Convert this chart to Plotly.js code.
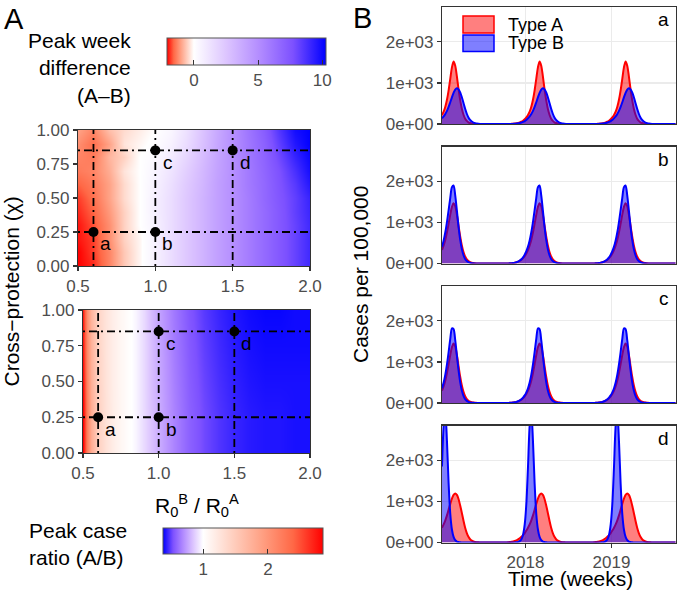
<!DOCTYPE html>
<html>
<head>
<meta charset="utf-8">
<script src="https://cdn.plot.ly/plotly-3.0.1.min.js"></script>
<style>
html,body{margin:0;padding:0;background:#fff;}
#chart{width:677px;height:596px;}
</style>
</head>
<body>
<div id="chart"></div>
<script>
// ================= Panel A data =================
// Peak week difference (A-B) grid
const ratioR = [0.5,0.6,0.7,0.8,0.9,1.0,1.1,1.2,1.3,1.4,1.5,1.6,1.7,1.8,1.9,2.0];
const chiGrid = [0,0.1,0.2,0.3,0.4,0.5,0.6,0.7,0.8,0.9,1.0];
const peakWeekDiff = [
  [-2.1,-1.9,-1.3,-0.6,-0.1,0.6,1.5,2.4,3.3,4.2,5.0,5.8,6.6,7.4,8.2,9.0],
  [-2.1,-1.8,-1.3,-0.6,-0.1,0.6,1.5,2.4,3.3,4.2,5.0,5.8,6.6,7.4,8.2,9.0],
  [-2.0,-1.8,-1.2,-0.5,-0.1,0.6,1.5,2.4,3.3,4.2,5.0,5.8,6.6,7.4,8.2,9.0],
  [-2.0,-1.7,-1.2,-0.5,0.0,0.6,1.5,2.4,3.3,4.2,5.0,5.8,6.6,7.4,8.2,9.0],
  [-1.9,-1.6,-1.1,-0.5,0.0,0.7,1.5,2.4,3.3,4.2,5.0,5.8,6.6,7.4,8.3,9.1],
  [-1.8,-1.5,-1.0,-0.4,0.0,0.7,1.5,2.4,3.3,4.2,5.0,5.8,6.7,7.5,8.3,9.2],
  [-1.6,-1.4,-1.0,-0.4,0.0,0.6,1.4,2.3,3.2,4.2,5.0,5.9,6.7,7.6,8.5,9.6],
  [-1.4,-1.3,-0.9,-0.3,0.0,0.5,1.2,2.1,3.1,4.1,5.0,5.9,6.8,7.7,8.8,9.9],
  [-1.3,-1.4,-0.8,-0.5,0.0,0.3,0.9,1.8,2.9,4.0,5.0,6.0,6.9,8.0,9.2,10.1],
  [-1.2,-1.5,-1.0,-0.3,-0.1,0.1,0.6,1.5,2.7,3.9,5.0,6.0,7.0,8.3,9.6,10.3],
  [-1.0,-1.3,-0.7,-0.4,-0.2,0.0,0.4,1.3,2.6,3.8,5.0,6.1,7.2,8.6,9.9,10.3]
];
// Peak case ratio (A/B) grid
const ratioRCase = [0.5,0.525,0.55,0.6,0.65,0.7,0.75,0.8,0.85,0.9,0.95,1.0,1.1,1.2,1.3,1.4,1.5,1.6,1.7,1.8,1.9,2.0];
const chiCase = [0,0.25,0.5,0.75,1.0];
const peakCaseRatio = [
  [2.85,2.2,1.8,1.45,1.28,1.17,1.08,1.02,0.97,0.9,0.84,0.78,0.67,0.58,0.52,0.48,0.45,0.43,0.42,0.42,0.41,0.41],
  [2.85,2.2,1.8,1.45,1.28,1.17,1.08,1.02,0.97,0.9,0.84,0.78,0.67,0.58,0.52,0.48,0.45,0.43,0.42,0.42,0.41,0.41],
  [2.8,2.15,1.77,1.43,1.27,1.16,1.08,1.02,0.97,0.9,0.83,0.77,0.66,0.57,0.51,0.47,0.44,0.42,0.41,0.41,0.41,0.41],
  [2.75,2.1,1.75,1.42,1.26,1.16,1.08,1.02,0.97,0.9,0.83,0.76,0.65,0.56,0.5,0.46,0.43,0.41,0.4,0.4,0.4,0.4],
  [2.7,2.05,1.72,1.41,1.26,1.16,1.08,1.02,0.97,0.9,0.82,0.75,0.64,0.55,0.49,0.45,0.42,0.40,0.39,0.39,0.40,0.40]
];
// Scenarios a-d
const scenarioLabels = ['a','b','c','d'];
const scenarioR = [0.6,1.0,1.0,1.5];
const scenarioChi = [0.25,0.25,0.85,0.85];
const topTicks = [0,5,10];
const bottomTicks = [1,2];

// ================= Panel B data (weekly cases per 100,000) =================
const weekStartYear = 2017.03;
const weeksPerYear = 52;
const casesA_a = [
220,300,420,590,820,1100,1380,1520,1420,1160,850,580,370,225,130,75,42,24,13,7,4,2,1,0,0,0,0,0,0,0,0,0,0,0,0,0,0,0,0,0,1,2,4,6,10,16,25,37,55,80,115,160,
220,300,420,590,820,1100,1380,1520,1420,1160,850,580,370,225,130,75,42,24,13,7,4,2,1,0,0,0,0,0,0,0,0,0,0,0,0,0,0,0,0,0,1,2,4,6,10,16,25,37,55,80,115,160,
220,300,420,590,820,1100,1380,1520,1420,1160,850,580,370,225,130,75,42,24,13,7,4,2,1,0,0,0,0,0,0,0,0,0,0,0,0,0,0,0,0,0,1,2,4,6,10,16,25,37,55,80,115,160];
const casesB_a = [
140,185,245,320,415,530,650,760,840,870,845,770,650,510,370,250,160,100,60,35,20,11,6,3,2,1,0,0,0,0,0,0,0,0,0,0,0,0,0,0,0,1,2,4,6,10,16,24,35,50,72,100,
140,185,245,320,415,530,650,760,840,870,845,770,650,510,370,250,160,100,60,35,20,11,6,3,2,1,0,0,0,0,0,0,0,0,0,0,0,0,0,0,0,1,2,4,6,10,16,24,35,50,72,100,
140,185,245,320,415,530,650,760,840,870,845,770,650,510,370,250,160,100,60,35,20,11,6,3,2,1,0,0,0,0,0,0,0,0,0,0,0,0,0,0,0,1,2,4,6,10,16,24,35,50,72,100];
const casesA_b = [
330,440,580,760,970,1190,1380,1470,1400,1190,920,660,440,280,170,100,58,33,19,10,6,3,2,1,0,0,0,0,0,0,0,0,0,0,0,0,0,0,1,2,3,5,8,13,20,30,44,64,92,130,180,245,
330,440,580,760,970,1190,1380,1470,1400,1190,920,660,440,280,170,100,58,33,19,10,6,3,2,1,0,0,0,0,0,0,0,0,0,0,0,0,0,0,1,2,3,5,8,13,20,30,44,64,92,130,180,245,
330,440,580,760,970,1190,1380,1470,1400,1190,920,660,440,280,170,100,58,33,19,10,6,3,2,1,0,0,0,0,0,0,0,0,0,0,0,0,0,0,1,2,3,5,8,13,20,30,44,64,92,130,180,245];
const casesB_b = [
410,560,760,1010,1300,1600,1860,1900,1660,1290,900,580,350,200,110,60,32,17,9,5,2,1,0,0,0,0,0,0,0,0,0,0,0,0,0,0,0,0,1,2,3,5,8,13,21,32,48,72,105,150,215,300,
410,560,760,1010,1300,1600,1860,1900,1660,1290,900,580,350,200,110,60,32,17,9,5,2,1,0,0,0,0,0,0,0,0,0,0,0,0,0,0,0,0,1,2,3,5,8,13,21,32,48,72,105,150,215,300,
410,560,760,1010,1300,1600,1860,1900,1660,1290,900,580,350,200,110,60,32,17,9,5,2,1,0,0,0,0,0,0,0,0,0,0,0,0,0,0,0,0,1,2,3,5,8,13,21,32,48,72,105,150,215,300];
const casesA_c = [
300,410,550,730,950,1170,1360,1450,1380,1170,900,640,425,270,165,97,56,32,18,10,5,3,1,0,0,0,0,0,0,0,0,0,0,0,0,0,0,0,0,1,2,4,7,12,18,27,39,57,82,115,160,220,
300,410,550,730,950,1170,1360,1450,1380,1170,900,640,425,270,165,97,56,32,18,10,5,3,1,0,0,0,0,0,0,0,0,0,0,0,0,0,0,0,0,1,2,4,7,12,18,27,39,57,82,115,160,220,
300,410,550,730,950,1170,1360,1450,1380,1170,900,640,425,270,165,97,56,32,18,10,5,3,1,0,0,0,0,0,0,0,0,0,0,0,0,0,0,0,0,1,2,4,7,12,18,27,39,57,82,115,160,220];
const casesB_c = [
360,500,690,940,1240,1560,1820,1800,1530,1160,800,510,305,175,95,52,28,15,8,4,2,1,0,0,0,0,0,0,0,0,0,0,0,0,0,0,0,0,0,1,2,4,7,12,18,28,42,62,90,130,185,260,
360,500,690,940,1240,1560,1820,1800,1530,1160,800,510,305,175,95,52,28,15,8,4,2,1,0,0,0,0,0,0,0,0,0,0,0,0,0,0,0,0,0,1,2,4,7,12,18,28,42,62,90,130,185,260,
360,500,690,940,1240,1560,1820,1800,1530,1160,800,510,305,175,95,52,28,15,8,4,2,1,0,0,0,0,0,0,0,0,0,0,0,0,0,0,0,0,0,1,2,4,7,12,18,28,42,62,90,130,185,260];
const casesA_d = [
360,440,540,660,800,940,1070,1160,1195,1160,1060,900,720,530,360,230,140,80,45,25,13,7,4,2,1,0,0,0,0,0,0,0,0,0,0,0,0,1,2,3,6,10,16,25,37,54,76,104,138,180,230,290,
360,440,540,660,800,940,1070,1160,1195,1160,1060,900,720,530,360,230,140,80,45,25,13,7,4,2,1,0,0,0,0,0,0,0,0,0,0,0,0,1,2,3,6,10,16,25,37,54,76,104,138,180,230,290,
360,440,540,660,800,940,1070,1160,1195,1160,1060,900,720,530,360,230,140,80,45,25,13,7,4,2,1,0,0,0,0,0,0,0,0,0,0,0,0,1,2,3,6,10,16,25,37,54,76,104,138,180,230,290];
const casesB_d = [
1850,2840,3180,2470,1440,700,316,136,58,24,10,4,2,1,0,0,0,0,0,0,0,0,0,0,0,0,0,0,0,0,0,0,0,0,0,0,0,0,0,0,0,0,0,1,3,6,14,34,82,191,440,949,
1850,2840,3180,2470,1440,700,316,136,58,24,10,4,2,1,0,0,0,0,0,0,0,0,0,0,0,0,0,0,0,0,0,0,0,0,0,0,0,0,0,0,0,0,0,1,3,6,14,34,82,191,440,949,
1850,2840,3180,2470,1440,700,316,136,58,24,10,4,2,1,0,0,0,0,0,0,0,0,0,0,0,0,0,0,0,0,0,0,0,0,0,0,0,0,0,0,0,0,0,1,3,6,14,34,82,191,440,949];
const panelLetters = ['a','b','c','d'];
const panelTypeA = [casesA_a, casesA_b, casesA_c, casesA_d];
const panelTypeB = [casesB_a, casesB_b, casesB_c, casesB_d];
const yearTicks = [2018, 2019];
const caseTicks = [0, 1000, 2000];
const caseTickText = ['0e+00','1e+03','2e+03'];

// ================= Drawing =================
const W = 677, H = 596;
const px = v => v / W;
const py = v => 1 - v / H;
const FONT = "'Liberation Sans', Arial, Helvetica, sans-serif";
const GREY = '#4d4d4d';

const topScale = [
  [0,'rgb(255,0,0)'],[0.042,'rgb(255,104,70)'],[0.085,'rgb(255,158,129)'],[0.127,'rgb(255,207,191)'],
  [0.169,'rgb(255,255,255)'],[0.377,'rgb(220,196,255)'],[0.585,'rgb(178,139,255)'],[0.792,'rgb(125,81,255)'],[1,'rgb(0,0,255)']
];
const bottomScale = [
  [0,'rgb(0,0,255)'],[0.063,'rgb(125,81,255)'],[0.126,'rgb(178,139,255)'],[0.188,'rgb(220,196,255)'],
  [0.251,'rgb(255,255,255)'],[0.438,'rgb(255,207,191)'],[0.626,'rgb(255,158,129)'],[0.813,'rgb(255,104,70)'],[1,'rgb(255,0,0)']
];

const cbCommon = {
  orientation:'h', xanchor:'left', yanchor:'top', lenmode:'pixels', thicknessmode:'pixels',
  xpad:0, ypad:0, outlinewidth:1, outlinecolor:'#555', ticks:'inside', ticklen:5,
  tickcolor:'#333', tickwidth:1, tickfont:{family:FONT, size:17, color:GREY}
};

const traces = [];
traces.push({
  type:'heatmap', x:ratioR, y:chiGrid, z:peakWeekDiff, xaxis:'x', yaxis:'y',
  zsmooth:'best', zmin:-2.1, zmax:10.3, colorscale:topScale, hoverinfo:'skip',
  colorbar:Object.assign({}, cbCommon, {x:px(167), y:py(38), len:159, thickness:27, tickvals:topTicks})
});
traces.push({
  type:'heatmap', x:ratioRCase, y:chiCase, z:peakCaseRatio, xaxis:'x2', yaxis:'y2',
  zsmooth:'best', zmin:0.38, zmax:2.85, colorscale:bottomScale, hoverinfo:'skip',
  colorbar:Object.assign({}, cbCommon, {x:px(163), y:py(528), len:160, thickness:26, tickvals:bottomTicks})
});
['x','x2'].forEach((xa, i) => {
  traces.push({
    type:'scatter', mode:'markers', x:scenarioR, y:scenarioChi, xaxis:xa, yaxis:(i===0?'y':'y2'),
    marker:{color:'black', size:10}, showlegend:false, hoverinfo:'skip'
  });
});

const timeYears = casesA_a.map((_, i) => weekStartYear + i / weeksPerYear);
for (let p = 0; p < 4; p++) {
  const xa = 'x' + (p + 3), ya = 'y' + (p + 3);
  traces.push({
    type:'scatter', mode:'lines', x:timeYears, y:panelTypeA[p], xaxis:xa, yaxis:ya,
    fill:'tozeroy', fillcolor:'rgba(255,0,0,0.5)', line:{color:'#ff0000', width:2, shape:'spline', smoothing:0.8},
    name:'Type A', showlegend:false, hoverinfo:'skip'
  });
  traces.push({
    type:'scatter', mode:'lines', x:timeYears, y:panelTypeB[p], xaxis:xa, yaxis:ya,
    fill:'tozeroy', fillcolor:'rgba(0,0,255,0.5)', line:{color:'#0000ff', width:2, shape:'spline', smoothing:0.8},
    name:'Type B', showlegend:false, hoverinfo:'skip'
  });
}

const axisCommon = {
  showline:true, mirror:true, linecolor:'#333333', linewidth:1.1, zeroline:false,
  ticks:'outside', ticklen:4, tickcolor:'#333333', tickwidth:1.1,
  tickfont:{family:FONT, size:17, color:GREY}, fixedrange:true
};
const hx = {range:[0.5,2.0], tickvals:[0.5,1,1.5,2], ticktext:['0.5','1.0','1.5','2.0'], showgrid:false};
const hy = {range:[0,1], tickvals:[0,0.25,0.5,0.75,1], ticktext:['0.00','0.25','0.50','0.75','1.00'], showgrid:false};

const layout = {
  width:W, height:H, margin:{l:0,r:0,t:0,b:0}, paper_bgcolor:'white', plot_bgcolor:'white',
  font:{family:FONT, color:'black'}, showlegend:false,
  xaxis:Object.assign({}, axisCommon, hx, {domain:[px(78), px(310)], anchor:'y'}),
  yaxis:Object.assign({}, axisCommon, hy, {domain:[py(266), py(130)], anchor:'x'}),
  xaxis2:Object.assign({}, axisCommon, hx, {domain:[px(83), px(310)], anchor:'y2'}),
  yaxis2:Object.assign({}, axisCommon, hy, {domain:[py(453), py(310)], anchor:'x2'}),
  shapes:[], annotations:[]
};
const panelTops = [7, 146.5, 286, 425.5];
const panelH = 117;
for (let p = 0; p < 4; p++) {
  const n = p + 3;
  layout['xaxis' + n] = Object.assign({}, axisCommon, {
    domain:[px(442), px(675.5)], anchor:'y' + n, range:[2017.03, 2019.745],
    tickvals:yearTicks, ticktext:yearTicks.map(String), showgrid:true, gridcolor:'#ebebeb', gridwidth:1.1,
    showticklabels:(p === 3), ticks:(p === 3 ? 'outside' : '')
  });
  layout['yaxis' + n] = Object.assign({}, axisCommon, {
    domain:[py(panelTops[p] + panelH), py(panelTops[p])], anchor:'x' + n, range:[0, 2850],
    tickvals:caseTicks, ticktext:caseTickText, showgrid:true, gridcolor:'#ebebeb', gridwidth:1.1
  });
  layout.annotations.push({
    xref:'x' + n + ' domain', yref:'y' + n + ' domain', x:1, y:1, xanchor:'center', yanchor:'middle',
    xshift:-12, yshift:-13, text:panelLetters[p], showarrow:false, font:{family:FONT, size:19, color:'black'}
  });
}

// reference lines through scenarios
const uniq = arr => arr.filter((v, i) => arr.indexOf(v) === i);
const dashStyle = {color:'black', width:1.8, dash:'2px,4px,8px,4px'};
[['x','y'],['x2','y2']].forEach(([xa, ya]) => {
  uniq(scenarioR).forEach(r => layout.shapes.push({type:'line', xref:xa, yref:ya + ' domain', x0:r, x1:r, y0:0, y1:1, line:dashStyle, layer:'above'}));
  uniq(scenarioChi).forEach(c => layout.shapes.push({type:'line', xref:xa + ' domain', yref:ya, x0:0, x1:1, y0:c, y1:c, line:dashStyle, layer:'above'}));
  scenarioLabels.forEach((lab, i) => layout.annotations.push({
    xref:xa, yref:ya, x:scenarioR[i], y:scenarioChi[i], text:lab, showarrow:false,
    xanchor:'center', yanchor:'middle', xshift:12.5, yshift:-12, font:{family:FONT, size:19, color:'black'}
  }));
});

// manual legend in panel a
layout.shapes.push({type:'rect', xref:'paper', yref:'paper', x0:px(463), x1:px(494), y0:py(33), y1:py(16),
  fillcolor:'rgba(255,0,0,0.5)', line:{color:'#ff0000', width:1.5}});
layout.shapes.push({type:'rect', xref:'paper', yref:'paper', x0:px(463), x1:px(494), y0:py(51.5), y1:py(35),
  fillcolor:'rgba(0,0,255,0.5)', line:{color:'#0000ff', width:1.5}});

const ann = (text, x, y, opts) => layout.annotations.push(Object.assign({
  xref:'paper', yref:'paper', x:px(x), y:py(y), text:text, showarrow:false,
  xanchor:'center', yanchor:'middle', font:{family:FONT, size:21, color:'black'}
}, opts || {}));
ann('Type A', 506, 25, {xanchor:'left', height:18, valign:'middle', font:{family:FONT, size:18, color:'black'}});
ann('Type B', 506, 43.5, {xanchor:'left', height:18, valign:'middle', font:{family:FONT, size:18, color:'black'}});
ann('A', 2, 18.5, {xanchor:'left', font:{family:FONT, size:29, color:'black'}});
ann('B', 351, 18, {xanchor:'left', font:{family:FONT, size:29, color:'black'}});
ann('Peak week<br>difference<br>(A–B)', 133, 67.5, {xanchor:'right', align:'right'});
ann('Peak case<br>ratio (A/B)', 27, 544, {xanchor:'left', align:'left'});
ann('Cross−protection (χ)', 11, 291.5, {textangle:-90});
ann('R<sub>0</sub><sup>B</sup> / R<sub>0</sub><sup>A</sup>', 196.5, 505);
ann('Cases per 100,000', 360.5, 274.5, {textangle:-90});
ann('Time (weeks)', 570, 578);

Plotly.newPlot('chart', traces, layout, {staticPlot:true, displayModeBar:false});
</script>
</body>
</html>
